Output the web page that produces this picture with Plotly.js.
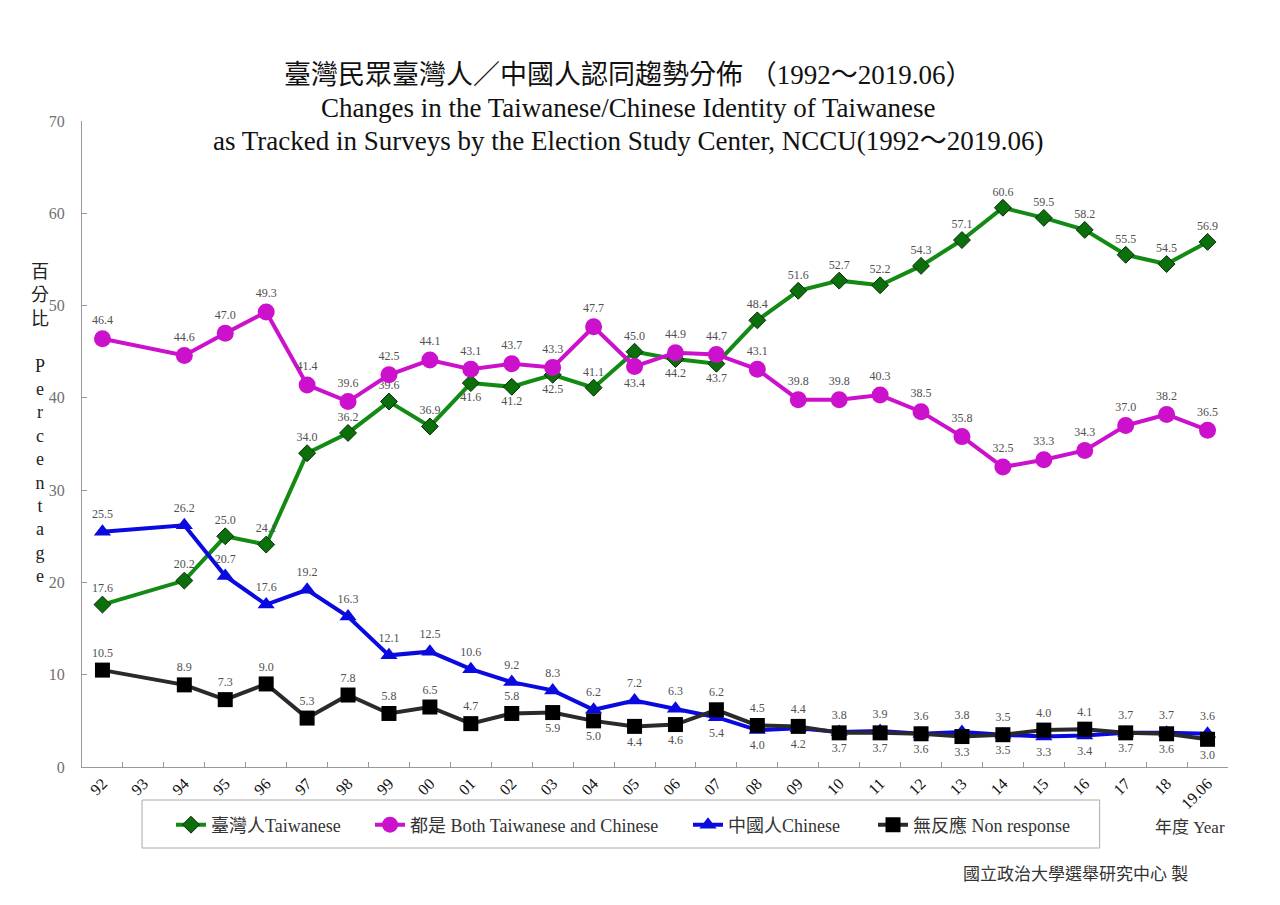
<!DOCTYPE html>
<html>
<head>
<meta charset="utf-8">
<script src="https://cdn.plot.ly/plotly-3.0.1.min.js"></script>
<style>html,body{margin:0;padding:0;background:#fff;}#chart{width:1280px;height:905px;}</style>
</head>
<body>
<div id="chart"></div>
<script>
// ---- data ----
const categories = ['92','93','94','95','96','97','98','99','00','01','02','03','04','05','06','07','08','09','10','11','12','13','14','15','16','17','18','19.06'];
const taiwanese = [17.6,null,20.2,25.0,24.1,34.0,36.2,39.6,36.9,41.6,41.2,42.5,41.1,45.0,44.2,43.7,48.4,51.6,52.7,52.2,54.3,57.1,60.6,59.5,58.2,55.5,54.5,56.9];
const both      = [46.4,null,44.6,47.0,49.3,41.4,39.6,42.5,44.1,43.1,43.7,43.3,47.7,43.4,44.9,44.7,43.1,39.8,39.8,40.3,38.5,35.8,32.5,33.3,34.3,37.0,38.2,36.5];
const chinese   = [25.5,null,26.2,20.7,17.6,19.2,16.3,12.1,12.5,10.6,9.2,8.3,6.2,7.2,6.3,5.4,4.0,4.2,3.8,3.9,3.6,3.8,3.5,3.3,3.4,3.7,3.7,3.6];
const nonResp   = [10.5,null,8.9,7.3,9.0,5.3,7.8,5.8,6.5,4.7,5.8,5.9,5.0,4.4,4.6,6.2,4.5,4.4,3.7,3.7,3.6,3.3,3.5,4.0,4.1,3.7,3.6,3.0];
const seriesNames = ['臺灣人Taiwanese','都是 Both Taiwanese and Chinese','中國人Chinese','無反應 Non response'];

// ---- label placement (style) ----
const T='top center', B='bottom center';
const posTw = [T,T,T,T,T,T,T,T,T,B,B,B,T,T,B,B,T,T,T,T,T,T,T,T,T,T,T,T];
const posBo = [T,T,T,T,T,T,T,T,T,T,T,T,T,B,T,T,T,T,T,T,T,T,T,T,T,T,T,T];
const posCh = [T,T,T,T,T,T,T,T,T,T,T,T,T,T,T,B,B,B,T,T,T,T,T,B,B,T,T,T];
const posNr = [T,T,T,T,T,T,T,T,T,T,T,B,B,B,B,T,T,T,B,B,B,B,B,T,T,B,B,B];

const fmt = a => a.map(v => v === null ? '' : v.toFixed(1));
const labelFont = {family:'Liberation Serif, serif', size:12, color:'#505050'};

function mk(name, y, pos, lineColor, sym, mColor, mSize, mLine, leg){
  return {
    type:'scatter', mode:'lines+markers+text', name:name, legend:leg,
    x:categories, y:y, text:fmt(y), textposition:pos, textfont:labelFont,
    connectgaps:true, cliponaxis:false, hoverinfo:'x+y',
    line:{color:lineColor, width:4},
    marker:{symbol:sym, color:mColor, size:mSize, line:mLine}
  };
}

const traces = [
  mk(seriesNames[0], taiwanese, posTw, '#138a13', 'diamond', '#0b700b', 13, {color:'#0a2a0a', width:1}, 'legend'),
  mk(seriesNames[1], both, posBo, '#cc11cc', 'circle', '#cc11cc', 17, {width:0}, 'legend2'),
  mk(seriesNames[2], chinese, posCh, '#0a0ae0', 'triangle-up', '#0a0ae0', 15, {width:0}, 'legend3'),
  mk(seriesNames[3], nonResp, posNr, '#2a2a2a', 'square', '#000000', 15, {width:0}, 'legend4')
];

const serif = 'Liberation Serif, Times New Roman, serif';
const cjkSerif = 'Liberation Serif, Noto Sans CJK TC, serif';
const legFont = {family:cjkSerif, size:18, color:'#333'};
function leg(xpx){
  return {orientation:'h', xref:'container', yref:'container', x:xpx/1280, y:1-825/905,
          xanchor:'left', yanchor:'middle', font:legFont, bgcolor:'rgba(0,0,0,0)', itemwidth:30};
}

const layout = {
  width:1280, height:905,
  margin:{l:82, r:52, t:121, b:138},
  paper_bgcolor:'#ffffff', plot_bgcolor:'#ffffff',
  showlegend:true,
  legend:leg(171), legend2:leg(370), legend3:leg(688), legend4:leg(873),
  xaxis:{type:'category', categoryorder:'array', categoryarray:categories,
         range:[-0.5, categories.length-0.5],
         tickson:'boundaries', ticks:'inside', ticklen:5, tickcolor:'#999',
         showline:true, linecolor:'#999', linewidth:1, showgrid:false, zeroline:false,
         tickangle:-45, tickfont:{family:serif, size:16, color:'#111'}},
  yaxis:{range:[0,70], dtick:10, ticks:'inside', ticklen:5, tickcolor:'#999',
         showline:true, linecolor:'#999', linewidth:1, showgrid:false, zeroline:false,
         tickfont:{family:serif, size:16, color:'#707070'}, ticklabelstandoff:13},
  shapes:[{type:'rect', xref:'paper', yref:'paper', x0:0.0524, x1:0.888, y0:-0.0511, y1:-0.1254,
           line:{color:'#aaaaaa', width:1}, fillcolor:'rgba(0,0,0,0)'}],
  annotations:[
    {xref:'paper', yref:'paper', x:0.477, y:1.0712, yanchor:'middle', showarrow:false,
     text:'臺灣民眾臺灣人／中國人認同趨勢分佈 （1992～2019.06）', font:{family:cjkSerif, size:27, color:'#111'}},
    {xref:'paper', yref:'paper', x:0.477, y:1.0201, yanchor:'middle', showarrow:false,
     text:'Changes in the Taiwanese/Chinese Identity of Taiwanese', font:{family:cjkSerif, size:27, color:'#111'}},
    {xref:'paper', yref:'paper', x:0.477, y:0.969, yanchor:'middle', showarrow:false,
     text:'as Tracked in Surveys by the Election Study Center, NCCU(1992～2019.06)', font:{family:cjkSerif, size:27, color:'#111'}},
    {xref:'paper', yref:'paper', x:-0.037, y:0.785, xanchor:'center', yanchor:'top', showarrow:false, align:'center',
     text:'百<br>分<br>比<br><br>P<br>e<br>r<br>c<br>e<br>n<br>t<br>a<br>g<br>e', font:{family:cjkSerif, size:18, color:'#222'}},
    {xref:'paper', yref:'paper', x:0.967, y:-0.094, xanchor:'center', yanchor:'middle', showarrow:false,
     text:'年度 Year', font:{family:cjkSerif, size:17, color:'#333'}},
    {xref:'paper', yref:'paper', x:0.867, y:-0.167, xanchor:'center', yanchor:'middle', showarrow:false,
     text:'國立政治大學選舉研究中心 製', font:{family:cjkSerif, size:17, color:'#333'}}
  ]
};

Plotly.newPlot('chart', traces, layout, {displayModeBar:false, staticPlot:true});
</script>
</body>
</html>
